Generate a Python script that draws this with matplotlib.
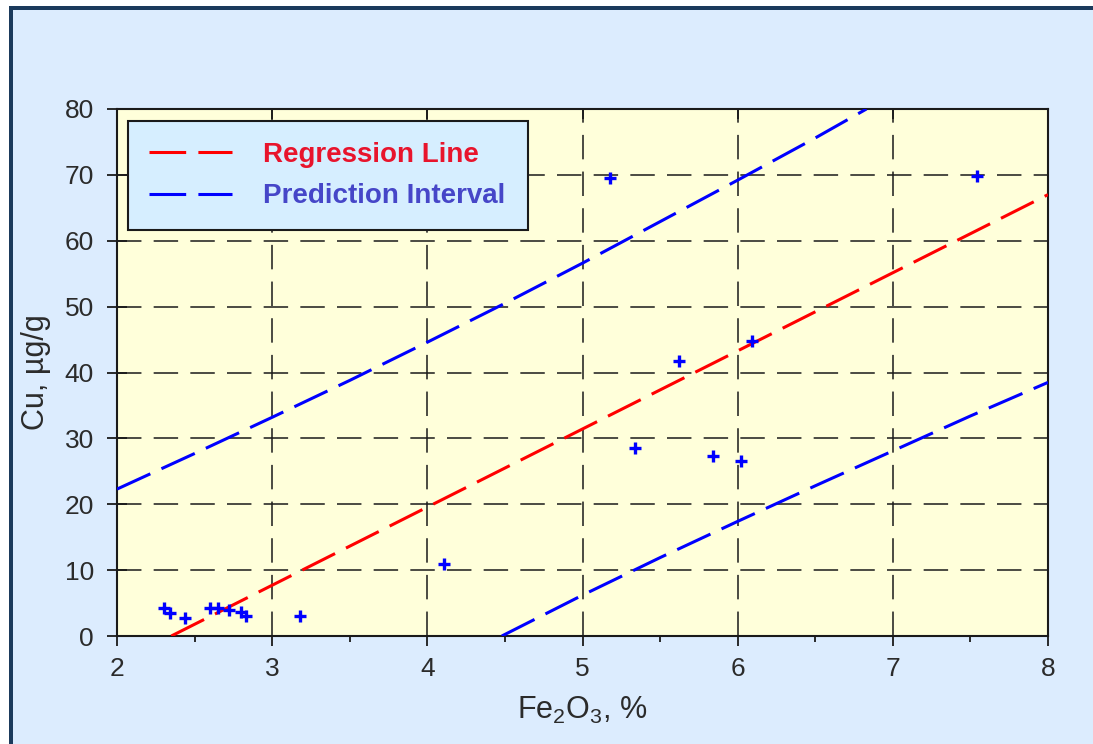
import matplotlib.pyplot as plt
from matplotlib.lines import Line2D
from matplotlib.patches import Rectangle
from matplotlib.ticker import MultipleLocator

plt.rcParams['font.family'] = ['Liberation Sans', 'DejaVu Sans']

# точки (Fe2O3, %; Cu, мкг/г)
fe2o3 = [2.30, 2.34, 2.44, 2.60, 2.65, 2.72, 2.80, 2.83, 3.18, 4.11,
         5.18, 5.34, 5.62, 5.84, 6.02, 6.09, 7.54]
cu = [4.2, 3.5, 2.8, 4.2, 4.2, 4.0, 3.7, 3.0, 3.1, 10.9,
      69.6, 28.6, 41.7, 27.3, 26.5, 44.8, 69.8]

# линия регрессии
reg_x = [2.35, 8.0]
reg_y = [0.0, 67.0]

# границы интервала предсказания
up_x = [2.0, 2.5, 3.0, 3.5, 4.0, 4.5, 5.0, 5.5, 6.0, 6.5, 6.83]
up_y = [22.3, 27.7, 33.2, 38.8, 44.6, 50.5, 56.6, 62.9, 69.2, 75.6, 80.0]
lo_x = [4.48, 5.0, 5.5, 6.0, 6.5, 7.0, 7.5, 8.0]
lo_y = [0.0, 6.2, 11.9, 17.4, 22.8, 28.1, 33.4, 38.5]

x_ticks = [2, 3, 4, 5, 6, 7, 8]
y_ticks = [0, 10, 20, 30, 40, 50, 60, 70, 80]

W, H = 1093, 744
fig = plt.figure(figsize=(W / 100, H / 100), dpi=100, facecolor='white')

# фон слайда с тёмной рамкой слева и сверху
fig.patches.append(Rectangle((9 / W, 0), 1, 1 - 6 / H, transform=fig.transFigure,
                             facecolor='#1b3a5c', edgecolor='none', zorder=-2))
fig.patches.append(Rectangle((12.5 / W, 0), 1, 1 - 9.5 / H, transform=fig.transFigure,
                             facecolor='#dcecfe', edgecolor='none', zorder=-1))

ax = fig.add_axes([117 / W, 1 - 636 / H, (1048 - 117) / W, (636 - 109) / H])
ax.set_facecolor('#ffffda')

dash = (0, (12, 4))
ax.plot(reg_x, reg_y, color='#ff0000', lw=2.2, linestyle=dash, zorder=3)
ax.plot(up_x, up_y, color='#0000ff', lw=2.2, linestyle=dash, zorder=3)
ax.plot(lo_x, lo_y, color='#0000ff', lw=2.2, linestyle=dash, zorder=3)
ax.plot(fe2o3, cu, linestyle='none', marker='+', markersize=8, mew=2.4,
        color='#0000ff', zorder=4)

ax.set_xlim(2, 8)
ax.set_ylim(0, 80)
ax.set_xticks(x_ticks)
ax.set_yticks(y_ticks)
ax.xaxis.set_minor_locator(MultipleLocator(0.5))

ax.grid(True, which='major', color='#1a1a1a', lw=1.1, linestyle=(0, (16, 8)))
ax.set_axisbelow(True)

txt = '#2b2b2b'
ax.tick_params(axis='x', which='major', direction='out', length=7, width=1.3,
               labelsize=19, labelcolor=txt, pad=8, color='#1a1a1a')
ax.tick_params(axis='x', which='minor', direction='out', length=4.5, width=1.3,
               color='#1a1a1a')
ax.tick_params(axis='y', which='major', direction='inout', length=15, width=1.3,
               labelsize=19, labelcolor=txt, pad=9, color='#1a1a1a')

# засечки сверху внутрь
top = ax.secondary_xaxis('top')
top.set_xticks(x_ticks)
top.tick_params(direction='in', length=7, width=1.3, labeltop=False, color='#1a1a1a')
top.spines['top'].set_visible(False)

for s in ax.spines.values():
    s.set_linewidth(1.5)
    s.set_color('#1a1a1a')

ax.set_xlabel('Fe$_\\mathregular{2}$O$_\\mathregular{3}$, %', fontsize=22, color=txt, labelpad=10)
ax.set_ylabel('Cu, µg/g', fontsize=22, color=txt, labelpad=10)

# легенда
handles = [Line2D([], [], color='#ff0000', lw=2.2, linestyle=dash),
           Line2D([], [], color='#0000ff', lw=2.2, linestyle=dash)]
leg = ax.legend(handles, ['Regression Line', 'Prediction Interval'],
                loc='upper left', bbox_to_anchor=(0.0115, 0.772, 0.4295, 0.205),
                mode='expand', borderaxespad=0, fancybox=False, framealpha=1,
                facecolor='#d6eeff', edgecolor='#1a1a1a',
                handlelength=3.0, handletextpad=1.12, borderpad=0.75,
                labelspacing=0.55, prop={'weight': 'bold', 'size': 20})
leg.get_frame().set_linewidth(1.5)
leg.get_texts()[0].set_color('#e8142c')
leg.get_texts()[1].set_color('#4646c8')

fig.savefig('out.png', dpi=100, facecolor=fig.get_facecolor())
